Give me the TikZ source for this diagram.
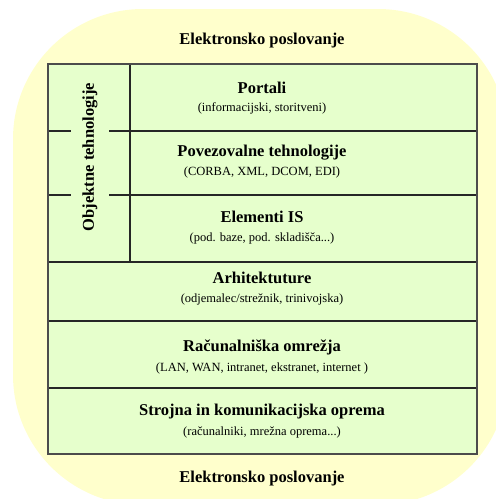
\documentclass[tikz,border=0pt]{standalone}
\usepackage{fontspec}
\setmainfont{Liberation Serif}
\definecolor{bgyellow}{HTML}{FFFFCC}
\definecolor{boxgreen}{HTML}{E6FFCC}
\begin{document}
\begin{tikzpicture}[x=1pt,y=-1pt,
  titletext/.style={font=\fontsize{16.5}{19}\selectfont\bfseries, inner sep=0pt},
  subtext/.style={font=\fontsize{12.5}{15}\selectfont, inner sep=0pt},
  gridline/.style={draw=black!85, line width=1.1pt},
  frameline/.style={draw=black!70, line width=1.4pt}]
\useasboundingbox (0,0) rectangle (496,499);
\clip (0,0) rectangle (496,499);
\fill[bgyellow, rounded corners=130pt] (13,9) rectangle (508,505);
\fill[boxgreen] (48,64) rectangle (477,454);
% coordinates
\coordinate (tl) at (48,64);
\coordinate (br) at (477,454);
\coordinate (v1) at (130,64);
\coordinate (v2) at (130,262);
% horizontal lines
\draw[gridline] (48,131) -- (71,131) (109,131) -- (477,131);
\draw[gridline] (48,195) -- (71,195) (109,195) -- (477,195);
\draw[gridline] (48,262) -- (477,262);
\draw[gridline] (48,321) -- (477,321);
\draw[gridline] (48,388) -- (477,388);
\draw[gridline] (v1) -- (v2);
\draw[frameline] (tl) rectangle (br);
% texts
\node[titletext] (top) at (262,41) {Elektronsko poslovanje};
\node[titletext] (bottom) at (262,479) {Elektronsko poslovanje};
\node[titletext, rotate=90] (obj) at (90,157) {Objektne tehnologije};
\node[titletext] (portali) at (262,88) {Portali};
\node[subtext] (portalisub) at (262,108) {(informacijski, storitveni)};
\node[titletext] (povez) at (262,153) {Povezovalne tehnologije};
\node[subtext] (povezsub) at (262,172) {(CORBA, XML, DCOM, EDI)};
\node[titletext] (elem) at (262,217) {Elementi IS};
\node[subtext] (elemsub) at (262,238) {(pod. baze, pod. skladišča...)};
\node[titletext] (arh) at (262,278) {Arhitektuture};
\node[subtext] (arhsub) at (262,299) {(odjemalec/strežnik, trinivojska)};
\node[titletext] (rac) at (262,347) {Računalniška omrežja};
\node[subtext] (racsub) at (262,368) {(LAN, WAN, intranet, ekstranet, internet )};
\node[titletext] (stroj) at (262,412) {Strojna in komunikacijska oprema};
\node[subtext] (strojsub) at (262,432) {(računalniki, mrežna oprema...)};
\end{tikzpicture}
\end{document}
